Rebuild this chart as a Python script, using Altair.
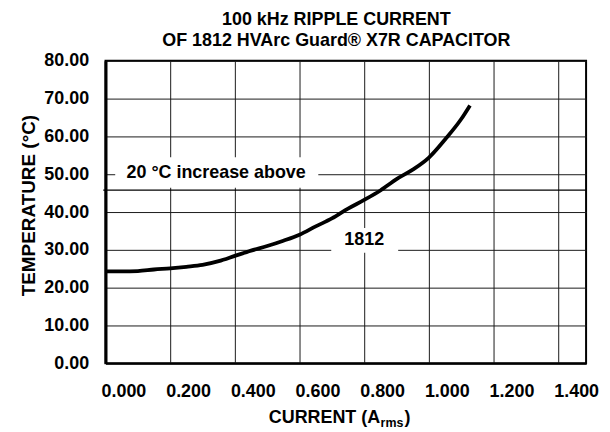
import altair as alt
import pandas as pd

FONT = "Liberation Sans"

# ---- data ----
current = [0.0, 0.05, 0.1, 0.15, 0.2, 0.25, 0.3, 0.35, 0.4, 0.45, 0.5, 0.55,
           0.6, 0.65, 0.7, 0.75, 0.8, 0.85, 0.9, 0.95, 1.0, 1.05, 1.1, 1.127]
temperature = [24.3, 24.3, 24.4, 24.8, 25.1, 25.5, 26.0, 27.0, 28.4, 29.8, 31.0, 32.4,
               34.0, 36.2, 38.3, 40.9, 43.2, 45.7, 48.7, 51.2, 54.4, 59.2, 64.6, 68.2]

x_ticks = [0.0, 0.2, 0.4, 0.6, 0.8, 1.0, 1.2, 1.4]
y_ticks = [0, 10, 20, 30, 40, 50, 60, 70, 80]
x_domain = [0.0, 1.486]
y_domain = [0, 80]

limit_temp = [45.8]
limit_label = ["20 \u00b0C increase above"]
series_label = ["1812"]
title_lines = ["100 kHz RIPPLE CURRENT", "OF 1812 HVArc Guard\u00ae X7R CAPACITOR"]
y_title = "TEMPERATURE (\u00b0C)"
x_title_main = "CURRENT (A"
x_title_sub = "rms"
x_title_end = ")"

# annotation placement (data units)
limit_box = {"x": 0.03, "x2": 0.658, "y": 46.4, "y2": 54.5}
limit_text_pos = {"x": 0.065, "y": 50.4}
series_box = {"x": 0.698, "x2": 0.905, "y": 29.2, "y2": 35.8}
series_text_pos = {"x": 0.80, "y": 32.6}

curve_df = pd.DataFrame({"current": current, "temperature": temperature})

xs = alt.Scale(domain=x_domain, nice=False, zero=False)
ys = alt.Scale(domain=y_domain, nice=False)

x_axis = alt.Axis(values=x_ticks, format=".3f", title="", grid=True,
                  ticks=False, tickSize=0, labelPadding=19,
                  labelOffset=18, labelFlush=False,
                  domainColor="black", domainWidth=2)
y_axis = alt.Axis(values=y_ticks, format=".2f", title=y_title, grid=True,
                  ticks=False, tickSize=0, labelPadding=17,
                  domainColor="black", domainWidth=3,
                  titleX=-71, titleY=145, titleBaseline="alphabetic",
                  titleFontSize=19)


def X(field):
    return alt.X(field, scale=xs, axis=x_axis, title="")


def Y(field):
    return alt.Y(field, scale=ys, axis=y_axis, title=y_title)


rule_df = pd.DataFrame({"x": [-0.007], "x2": [x_domain[1]], "y": limit_temp})
limit_rule = alt.Chart(rule_df).mark_rule(color="black", strokeWidth=1.2, clip=False).encode(
    x=X("x:Q"), x2="x2:Q", y=Y("y:Q"),
)

boxes_df = pd.DataFrame([limit_box, series_box])
boxes = alt.Chart(boxes_df).mark_rect(fill="white").encode(
    x=X("x:Q"), x2="x2:Q", y=Y("y:Q"), y2="y2:Q",
)

curve = alt.Chart(curve_df).mark_line(
    color="black", strokeWidth=3.8, interpolate="monotone", strokeCap="butt"
).encode(x=X("current:Q"), y=Y("temperature:Q"))

limit_text_df = pd.DataFrame({"x": [limit_text_pos["x"]], "y": [limit_text_pos["y"]], "t": limit_label})
limit_text = alt.Chart(limit_text_df).mark_text(
    font=FONT, fontSize=18, fontWeight="bold", align="left", baseline="middle", color="black"
).encode(x=X("x:Q"), y=Y("y:Q"), text="t:N")

series_text_df = pd.DataFrame({"x": [series_text_pos["x"]], "y": [series_text_pos["y"]], "t": series_label})
series_text = alt.Chart(series_text_df).mark_text(
    font=FONT, fontSize=18, fontWeight="bold", align="center", baseline="middle", color="black"
).encode(x=X("x:Q"), y=Y("y:Q"), text="t:N")


def label(text, size, align, px, py):
    return alt.Chart(pd.DataFrame({"t": [text]})).mark_text(
        font=FONT, fontSize=size, fontWeight="bold", align=align,
        baseline="alphabetic", color="black"
    ).encode(x=alt.value(px), y=alt.value(py), text="t:N")


# chart title (two lines) and x-axis title with subscript
title1 = label(title_lines[0], 18, "center", 232, -36)
title2 = label(title_lines[1], 18, "center", 232, -15)
xt_main = label(x_title_main, 18, "right", 276, 364)
xt_sub = label(x_title_sub, 12.5, "left", 276.5, 368.5)
xt_end = label(x_title_end, 18, "left", 300.5, 364)

chart = alt.layer(
    limit_rule, boxes, curve, limit_text, series_text,
    title1, title2, xt_main, xt_sub, xt_end
).properties(
    width=483,
    height=304,
    autosize=alt.AutoSizeParams(type="none"),
    padding={"left": 98, "top": 52, "right": 16, "bottom": 66},
).configure_view(
    stroke="black", strokeWidth=2
).configure_axis(
    labelFont=FONT, labelFontSize=18, labelFontWeight="bold", labelColor="black",
    titleFont=FONT, titleFontWeight="bold", titleColor="black",
    gridColor="#1a1a1a", gridWidth=1, gridOpacity=1,
)

chart.save("out.html", embed_options={"renderer": "svg", "actions": False})
